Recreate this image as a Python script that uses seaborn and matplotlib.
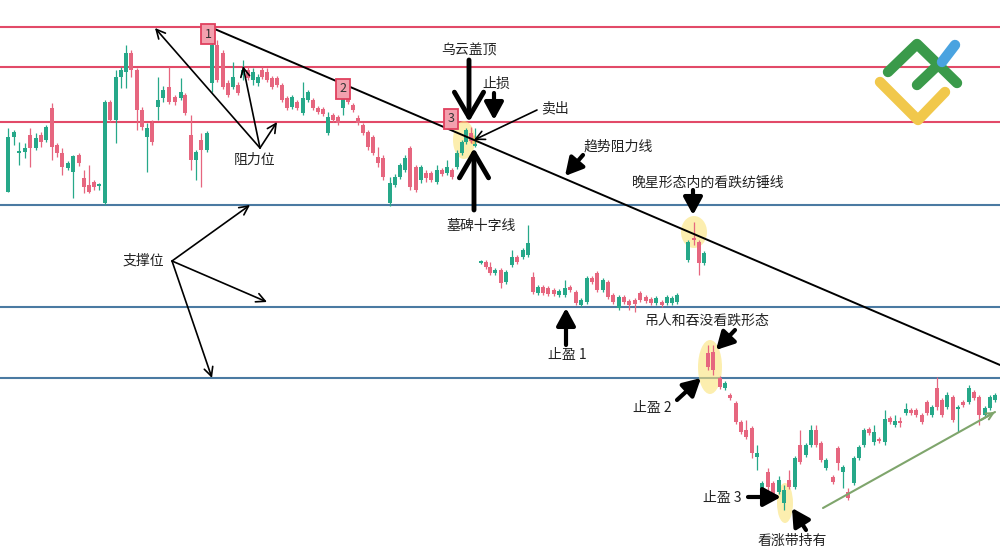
import matplotlib
matplotlib.use("Agg")
import matplotlib.pyplot as plt
from matplotlib.patches import Ellipse
import seaborn as sns
import numpy as np

sns.set_theme(style="white")
plt.rcParams['font.family'] = ['Noto Sans CJK SC', 'DejaVu Sans']

# ---------------- data ----------------
# candle time index (gaps between the four chart fragments)
t = [8, 14, 19, 25, 30, 36, 41, 46, 52, 57, 62, 68, 73, 79, 84, 89, 94, 99, 105, 110,
     116, 121, 126, 131, 137, 142, 147, 152, 158, 163, 169, 175, 181, 185, 191, 196, 201, 207, 212, 217,
     223, 228, 233, 238, 243, 248, 253, 258, 262, 267, 272, 277, 282, 287, 292, 297, 303, 308, 313, 318,
     323, 328, 333, 338, 343, 348, 353, 358, 363, 368, 373, 378, 383, 390, 395, 400, 405, 410, 416, 421,
     426, 431, 437, 442, 447, 452, 457, 462, 466, 471, 475,
     481, 486, 490, 495, 501, 506, 512, 517, 523, 528, 533, 538, 543, 548, 554, 559, 565, 570, 576, 581,
     587, 592, 597, 603, 608, 613, 619, 624, 629, 635, 640, 646, 651, 656, 662, 667, 672, 677,
     688, 694, 699, 704,
     708, 713, 720, 725, 730, 736, 741, 746, 752, 757, 762, 768, 773, 779, 784, 789, 795, 800, 806, 811,
     816, 821, 826, 833, 838, 843, 848, 854, 859, 864, 869, 874, 879, 885, 890, 895, 900, 906, 911, 916,
     922, 927, 932, 937, 942, 947, 953, 958, 963, 969, 974, 979, 985, 990, 995]

open_ = [368, 423, 407, 408, 425, 412, 425, 420, 452, 415, 407, 392, 388, 405, 382, 375, 378, 374, 357, 458,
         440, 483, 488, 507, 490, 450, 423, 437, 453, 462, 473, 463, 462, 465, 425, 400, 420, 410, 477, 515,
         507, 477, 473, 475, 485, 490, 480, 477, 490, 488, 482, 482, 475, 462, 453, 458, 447, 460, 460, 452,
         451, 427, 445, 443, 452, 465, 455, 442, 435, 428, 423, 403, 402, 357, 375, 383, 390, 412, 393, 380,
         387, 387, 378, 390, 387, 390, 393, 407, 418, 427, 414,
         297, 298, 293, 287, 290, 278, 295, 303, 303, 305, 283, 267, 273, 272, 270, 265, 265, 273, 268, 255,
         258, 282, 287, 270, 278, 265, 252, 263, 259, 260, 267, 263, 261, 257, 258, 257, 257, 258,
         300, 322, 318, 297,
         207, 208, 182, 172, 165, 157, 138, 130, 132, 103, 68, 88, 77, 68, 57, 80, 73, 115, 105, 115,
         130, 117, 92, 83, 112, 88, 68, 77, 102, 115, 131, 118, 121, 118, 142, 135, 139, 147, 150, 150,
         145, 158, 145, 172, 160, 153, 163, 151, 158, 158, 168, 163, 145, 152, 160]

high = [432, 430, 418, 417, 432, 427, 428, 435, 457, 417, 412, 399, 405, 407, 390, 395, 380, 377, 460, 460,
        490, 493, 515, 510, 492, 453, 437, 440, 483, 474, 493, 465, 482, 467, 445, 410, 427, 429, 527, 520,
        510, 480, 498, 478, 500, 493, 492, 486, 493, 492, 484, 484, 477, 464, 465, 460, 478, 470, 462, 454,
        453, 448, 447, 445, 472, 468, 457, 445, 437, 430, 425, 413, 405, 383, 386, 397, 405, 414, 395, 395,
        390, 389, 395, 392, 400, 392, 410, 420, 432, 433, 432,
        300, 300, 298, 292, 292, 290, 310, 305, 312, 335, 288, 275, 275, 274, 272, 271, 280, 275, 270, 262,
        284, 284, 289, 282, 280, 267, 265, 265, 261, 262, 269, 265, 263, 264, 260, 265, 264, 267,
        320, 338, 320, 309,
        215, 215, 184, 179, 167, 159, 140, 140, 134, 115, 79, 92, 79, 84, 75, 90, 104, 130, 117, 135,
        135, 119, 102, 85, 114, 95, 72, 104, 115, 132, 133, 135, 123, 150, 144, 145, 143, 157, 152, 152,
        147, 160, 155, 183, 162, 168, 165, 155, 160, 175, 170, 165, 154, 165, 167]

low = [368, 415, 395, 402, 393, 410, 413, 418, 400, 403, 385, 390, 362, 394, 367, 367, 370, 370, 355, 438,
       417, 472, 472, 483, 430, 430, 388, 415, 440, 458, 456, 455, 460, 445, 390, 380, 373, 408, 468, 478,
       471, 463, 471, 465, 480, 480, 475, 474, 481, 478, 471, 473, 458, 450, 451, 450, 445, 458, 450, 446,
       444, 425, 438, 435, 445, 456, 448, 435, 425, 410, 405, 393, 380, 354, 373, 381, 388, 370, 368, 377,
       378, 378, 376, 384, 385, 381, 391, 405, 416, 417, 413,
       296, 291, 285, 285, 272, 276, 293, 296, 301, 303, 266, 265, 265, 264, 264, 263, 263, 268, 255, 253,
       256, 276, 268, 268, 261, 256, 250, 256, 250, 248, 258, 257, 255, 255, 253, 255, 255, 256,
       298, 315, 285, 295,
       190, 185, 171, 170, 160, 136, 126, 121, 102, 90, 66, 60, 61, 66, 50, 71, 71, 96, 103, 113,
       113, 98, 90, 76, 90, 72, 60, 75, 100, 113, 125, 115, 117, 115, 136, 133, 133, 145, 145, 143,
       136, 145, 143, 150, 143, 151, 138, 128, 153, 156, 160, 135, 143, 150, 158]

close = [423, 428, 409, 412, 412, 422, 418, 433, 413, 407, 393, 397, 404, 397, 373, 368, 373, 376, 458, 440,
         483, 490, 507, 490, 450, 433, 432, 418, 460, 470, 458, 458, 468, 447, 400, 408, 410, 427, 515, 480,
         473, 465, 483, 467, 490, 482, 488, 483, 483, 480, 473, 475, 460, 452, 463, 452, 462, 468, 452, 448,
         446, 443, 440, 437, 462, 458, 450, 437, 427, 413, 407, 397, 383, 377, 383, 395, 402, 373, 370, 393,
         382, 380, 390, 386, 393, 383, 407, 418, 430, 419, 416,
         299, 293, 287, 290, 277, 288, 303, 298, 310, 317, 268, 273, 267, 266, 266, 269, 272, 270, 257, 260,
         282, 278, 270, 280, 263, 258, 263, 258, 255, 256, 260, 259, 257, 262, 255, 263, 262, 265,
         318, 320, 297, 307,
         193, 190, 173, 177, 162, 138, 128, 123, 107, 107, 77, 73, 63, 80, 70, 73, 102, 98, 115, 130,
         115, 100, 100, 78, 97, 93, 62, 102, 113, 130, 127, 128, 119, 141, 138, 139, 137, 151, 147, 145,
         138, 147, 153, 153, 145, 165, 140, 153, 155, 172, 162, 145, 152, 163, 165]

resistance_levels = [533, 493, 438]
support_levels = [355, 253, 182]
trend_x = [210, 1000]
trend_y = [533, 195]
uptrend_x = [823, 995]
uptrend_y = [52, 148]

UP = '#26a889'
DOWN = '#e6667f'

# ---------------- figure ----------------
fig = plt.figure(figsize=(10, 5.58), dpi=100)
ax = fig.add_axes([0, 0, 1, 1])
ax.set_xlim(0, 1000)
ax.set_ylim(2, 560)
ax.axis('off')

for lv in resistance_levels:
    ax.axhline(lv, color='#e24a68', lw=1.5, zorder=1)
for lv in support_levels:
    ax.axhline(lv, color='#4b7aa2', lw=1.5, zorder=1)

# highlights
hl = dict(color='#fbe47a', alpha=0.6, lw=0, zorder=2)
ax.add_patch(Ellipse((464, 420), 22, 38, **hl))
ax.add_patch(Ellipse((694, 328), 26, 32, **hl))
ax.add_patch(Ellipse((710, 193), 24, 54, **hl))
ax.add_patch(Ellipse((785, 57), 16, 40, **hl))
ax.add_patch(Ellipse((474, 420), 9, 9, color='#f4a742', alpha=0.6, lw=0, zorder=2))

# candles
ta = np.array(t, float)
o = np.array(open_, float)
h = np.array(high, float)
l = np.array(low, float)
c = np.array(close, float)
cols = np.where(c >= o, UP, DOWN)
ax.vlines(ta, l, h, colors=cols, lw=0.9, zorder=3)
ax.bar(ta, np.maximum(np.abs(c - o), 1.5), bottom=np.minimum(o, c), width=4.2,
       color=cols, linewidth=0, zorder=4)

# trend lines
sns.lineplot(x=trend_x, y=trend_y, color='black', lw=1.4, ax=ax, zorder=5)
sns.lineplot(x=uptrend_x, y=uptrend_y, color='#7fa56c', lw=1.5, ax=ax, zorder=5)
ax.annotate('', xy=(uptrend_x[1], uptrend_y[1]), xytext=(uptrend_x[1] - 14, uptrend_y[1] - 8),
            arrowprops=dict(arrowstyle='->', color='#7fa56c', lw=1.5, mutation_scale=12,
                            shrinkA=0, shrinkB=0), zorder=5)

# numbered markers
for x, y, s in [(208, 526, '1'), (343, 471, '2'), (451, 441, '3')]:
    ax.text(x, y, s, ha='center', va='center', fontsize=9, color='#333333', zorder=7,
            bbox=dict(boxstyle='square,pad=0.25', fc='#f3a0ae', ec='#e0405e', lw=1.3))

# labels
TXT = dict(fontsize=10, color='#222222', ha='center', va='center', zorder=8)
labels = [
    (255, 400, '阻力位'), (143, 299, '支撑位'), (469, 510, '乌云盖顶'), (496, 476, '止损'),
    (555, 452, '卖出'), (618, 413, '趋势阻力线'), (708, 377, '晚星形态内的看跌纺锤线'),
    (481, 334, '墓碑十字线'), (567, 205, '止盈 1'), (707, 239, '吊人和吞没看跌形态'),
    (652, 152, '止盈 2'), (722, 62, '止盈 3'), (792, 19, '看涨带持有'),
]
for x, y, s in labels:
    ax.text(x, y, s, **TXT)

# thin arrows
thin = dict(arrowstyle='->', color='black', lw=1.2, mutation_scale=16, shrinkA=0, shrinkB=0)
for tail, tip in [((260, 412), (155, 532)), ((260, 412), (243, 494)), ((260, 412), (277, 438)),
                  ((172, 299), (250, 355)), ((172, 299), (267, 258)), ((172, 299), (212, 182)),
                  ((537, 450), (474, 420))]:
    ax.annotate('', xy=tip, xytext=tail, arrowprops=thin, zorder=6)

# thick arrows
big = dict(arrowstyle='->,head_length=0.6,head_width=0.35', color='black', lw=3.5,
           mutation_scale=30, shrinkA=0, shrinkB=0)
solid = dict(arrowstyle='-|>,head_length=0.7,head_width=0.38', color='black', lw=3.0,
             mutation_scale=15, shrinkA=0, shrinkB=0)
for tail, tip in [((469, 500), (469, 438)), ((474, 350), (474, 412))]:
    ax.annotate('', xy=tip, xytext=tail, arrowprops=big, zorder=6)
for tail, tip in [((494, 467), (494, 440)), ((583, 405), (565, 384)), ((693, 370), (693, 345)),
                  ((566, 215), (566, 252)), ((735, 230), (716, 210)), ((677, 160), (701, 182)),
                  ((748, 63), (781, 63)), ((806, 30), (792, 52))]:
    ax.annotate('', xy=tip, xytext=tail, arrowprops=solid, zorder=6)

# logo
lg = dict(lw=7.5, solid_capstyle='round', solid_joinstyle='round', zorder=9)
ax.plot([880, 918, 945], [478, 440, 468], color='#f1c84b', **lg)
ax.plot([888, 917, 957], [488, 516, 477], color='#3a9a4a', **lg)
ax.plot([917, 938], [475, 495], color='#3a9a4a', **lg)
ax.plot([942, 955], [498, 515], color='#4aa3e0', **lg)

fig.savefig('out.png', dpi=100, facecolor='white')
